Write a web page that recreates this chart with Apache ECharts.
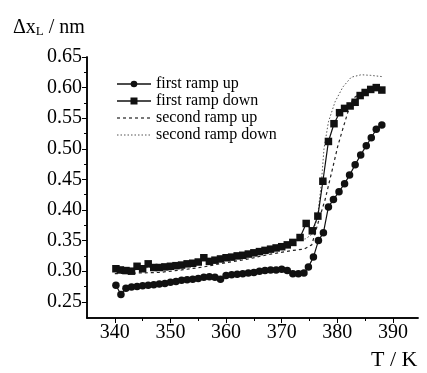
<!DOCTYPE html>
<html><head><meta charset="utf-8">
<script src="https://cdn.jsdelivr.net/npm/echarts@6/dist/echarts.min.js"></script>
<style>html,body{margin:0;padding:0;background:#fff}#c{width:427px;height:373px}</style>
</head><body><div id="c"></div>
<script>
var seriesNames = ['first ramp up', 'first ramp down', 'second ramp up', 'second ramp down'];
var xTicks = [340, 350, 360, 370, 380, 390];
var xMinorTicks = [345, 355, 365, 375, 385];
var yTicks = [0.25, 0.30, 0.35, 0.40, 0.45, 0.50, 0.55, 0.60, 0.65];
var yMinorTicks = [0.275, 0.325, 0.375, 0.425, 0.475, 0.525, 0.575, 0.625];

var firstRampUp = [[340.2,0.277],[341.1,0.262],[342,0.272],[343,0.274],[344,0.275],[345,0.276],[346,0.277],[347,0.278],[348,0.279],[349,0.280],[350,0.282],[351,0.283],[352,0.285],[353,0.286],[354,0.287],[355,0.288],[356,0.290],[357,0.291],[358,0.290],[359,0.287],[360,0.293],[361,0.294],[362,0.295],[363,0.296],[364,0.297],[365,0.298],[366,0.300],[367,0.301],[368,0.302],[369,0.302],[370,0.303],[371,0.301],[372,0.296],[373,0.296],[374,0.297],[374.8,0.307],[375.7,0.323],[376.6,0.35],[377.5,0.363],[378.4,0.405],[379.3,0.417],[380.3,0.43],[381.3,0.443],[382.2,0.457],[383.2,0.474],[384.2,0.49],[385.2,0.505],[386.1,0.518],[387,0.532],[388,0.539]];
var firstRampDown = [[340.2,0.304],[341,0.302],[342,0.301],[343,0.300],[344,0.308],[345,0.304],[346,0.312],[347,0.306],[348,0.306],[349,0.307],[350,0.308],[351,0.309],[352,0.310],[353,0.312],[354,0.313],[355,0.315],[356,0.322],[357,0.316],[358,0.318],[359,0.320],[360,0.322],[361,0.323],[362,0.325],[363,0.326],[364,0.328],[365,0.330],[366,0.332],[367,0.334],[368,0.336],[369,0.338],[370,0.340],[371,0.343],[372,0.347],[373.3,0.355],[374.4,0.378],[375.5,0.366],[376.5,0.39],[377.4,0.447],[378.4,0.512],[379.4,0.541],[380.4,0.559],[381.3,0.566],[382.3,0.570],[383.2,0.576],[384.1,0.587],[385,0.592],[386,0.597],[387,0.600],[388,0.596]];
var secondRampUp = [[340,0.296],[344,0.297],[348,0.298],[352,0.302],[356,0.307],[360,0.314],[364,0.320],[368,0.328],[372,0.334],[374,0.336],[375.4,0.343],[376.6,0.381],[377.8,0.417],[379.2,0.47],[380.1,0.505],[381,0.533],[381.9,0.56],[382.8,0.582],[384,0.59],[386,0.597],[387.5,0.6]];
var secondRampDown = [[340,0.300],[344,0.304],[348,0.308],[352,0.313],[356,0.319],[360,0.325],[364,0.332],[368,0.340],[372,0.348],[374.3,0.353],[375.4,0.36],[376.4,0.386],[377.1,0.441],[377.6,0.5],[378.4,0.544],[379.6,0.577],[381,0.601],[382.5,0.617],[384.3,0.621],[386,0.620],[388,0.618]];

var FONT = '"Liberation Serif", "Times New Roman", serif';
var chart = echarts.init(document.getElementById('c'), null, {renderer: 'canvas'});

function xAxisDef(ticks, len, labels) {
  return {
    type: 'value', min: 335, max: 394.5, position: 'bottom',
    axisLine: {show: true, lineStyle: {color: '#000', width: 1.5}},
    axisTick: {show: true, length: len, customValues: ticks, lineStyle: {color: '#000', width: 1}},
    axisLabel: labels ? {show: true, customValues: ticks, margin: 5, color: '#000', fontFamily: FONT, fontSize: 20} : {show: false},
    splitLine: {show: false}
  };
}
function yAxisDef(ticks, len, labels) {
  return {
    type: 'value', min: 0.2235, max: 0.65, position: 'left',
    axisLine: {show: true, lineStyle: {color: '#000', width: 1.5}},
    axisTick: {show: true, length: len, customValues: ticks, lineStyle: {color: '#000', width: 1}},
    axisLabel: labels ? {show: true, customValues: ticks, margin: 5, color: '#000', fontFamily: FONT, fontSize: 20,
      formatter: function (v) { return v.toFixed(2); }} : {show: false},
    splitLine: {show: false}
  };
}

// legend drawn as graphic (not data marks)
var legendStyles = [
  {dash: null, color: '#111', marker: 'circle'},
  {dash: null, color: '#111', marker: 'rect'},
  {dash: [3, 3], color: '#222', marker: null},
  {dash: [1.5, 2], color: '#555', marker: null}
];
var legendGraphics = [];
seriesNames.forEach(function (name, i) {
  var y = 84 + i * 17;
  var st = legendStyles[i];
  legendGraphics.push({type: 'line', shape: {x1: 117, y1: y, x2: 151, y2: y},
    style: {stroke: st.color, lineWidth: st.dash ? 1.2 : 1.5, lineDash: st.dash}});
  if (st.marker === 'circle') legendGraphics.push({type: 'circle', shape: {cx: 134, cy: y, r: 3.3}, style: {fill: '#111'}});
  if (st.marker === 'rect') legendGraphics.push({type: 'rect', shape: {x: 130.5, y: y - 3.5, width: 7, height: 7}, style: {fill: '#111'}});
  legendGraphics.push({type: 'text', x: 156, y: y, style: {text: name, fontFamily: FONT, fontSize: 16, fill: '#000', verticalAlign: 'middle', align: 'left'}});
});

chart.setOption({
  animation: false,
  backgroundColor: '#fff',
  grid: {left: 87, right: 9, top: 57, bottom: 55, containLabel: false},
  title: [
    {text: '{a|Δx}{s|L}{a| / nm}', left: 8, top: 8,
      textStyle: {rich: {
        a: {fontFamily: FONT, fontSize: 20, fontWeight: 'normal', color: '#000', lineHeight: 25, verticalAlign: 'bottom'},
        s: {fontFamily: FONT, fontSize: 13, fontWeight: 'normal', color: '#000', lineHeight: 13, verticalAlign: 'bottom'}
      }}},
    {text: 'T / K', left: 366, top: 344, textStyle: {fontFamily: FONT, fontSize: 22, fontWeight: 'normal', color: '#000'}}
  ],
  graphic: legendGraphics,
  xAxis: [xAxisDef(xTicks, 5, true), xAxisDef(xMinorTicks, 3, false)],
  yAxis: [yAxisDef(yTicks, 5, true), yAxisDef(yMinorTicks, 3, false)],
  series: [
    {name: seriesNames[0], type: 'line', data: firstRampUp, symbol: 'circle', symbolSize: 7.5,
      itemStyle: {color: '#111'}, lineStyle: {color: '#111', width: 1.2}, z: 4},
    {name: seriesNames[1], type: 'line', data: firstRampDown, symbol: 'rect', symbolSize: 7.5,
      itemStyle: {color: '#111'}, lineStyle: {color: '#111', width: 1.2}, z: 4},
    {name: seriesNames[2], type: 'line', data: secondRampUp, symbol: 'none', showSymbol: false,
      itemStyle: {color: '#222'}, lineStyle: {color: '#222', width: 1.2, type: [3, 3]}, z: 3},
    {name: seriesNames[3], type: 'line', data: secondRampDown, symbol: 'none', showSymbol: false,
      itemStyle: {color: '#555'}, lineStyle: {color: '#555', width: 1, type: [1.5, 2]}, z: 3}
  ]
});
</script></body></html>
